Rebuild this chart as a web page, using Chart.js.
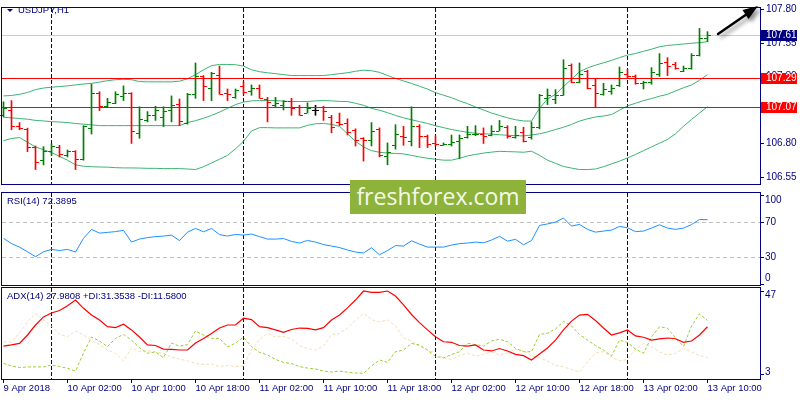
<!DOCTYPE html>
<html><head><meta charset="utf-8">
<script src="https://cdn.jsdelivr.net/npm/chart.js@4.4.1/dist/chart.umd.min.js"></script>
<style>
html,body{margin:0;padding:0;background:#fff;width:800px;height:400px;overflow:hidden}
.pane{position:absolute;left:0;width:800px}
#wm{position:absolute;left:350px;top:180px;width:176px;height:34px;background:#8db33a;color:#f4f8ec;font:23px 'Open Sans',sans-serif;line-height:33px;text-align:center}
</style></head><body>
<div class="pane" style="top:0;height:192px"><canvas id="c1"></canvas></div>
<div class="pane" style="top:192px;height:94px"><canvas id="c2"></canvas></div>
<div class="pane" style="top:286px;height:114px"><canvas id="c3"></canvas></div>
<div id="wm">freshforex.com</div>
<script>
const NAVY = '#000080';
const FONT = "'Liberation Sans', Arial, sans-serif";

// ---- categories / ticks ----
const barsPerTick = 8;
const xTickLabels = ['9 Apr 2018','10 Apr 02:00','10 Apr 10:00','10 Apr 18:00','11 Apr 02:00','11 Apr 10:00',
  '11 Apr 18:00','12 Apr 02:00','12 Apr 10:00','12 Apr 18:00','13 Apr 02:00','13 Apr 10:00'];
const daySeparators = [6, 30, 54, 78];
const priceTicks = [106.55, 106.80, 107.05, 107.30, 107.55, 107.80];
const bidPrice = 107.61;
const levelLines = [107.29, 107.07];
const rsiLevels = [70, 30];
const rsiTicks = [100, 70, 30, 0];
const adxTicks = [47, 3];

// ---- USDJPY H1 OHLC ----
const open = [107.013,107.051,106.934,106.910,106.777,106.676,106.747,106.777,106.716,106.742,
106.681,106.915,107.175,107.079,107.105,107.152,107.175,106.880,106.976,107.011,
106.997,107.051,107.098,106.952,107.170,107.304,107.215,107.315,107.180,107.145,
107.231,107.191,107.215,107.133,107.086,107.086,107.121,107.075,107.032,107.051,
107.075,107.002,106.962,106.950,106.903,106.840,106.829,106.910,106.707,106.787,
106.857,106.817,106.934,106.857,106.801,106.787,106.794,106.817,106.852,106.868,
106.871,106.864,106.894,106.927,106.852,106.887,106.852,106.927,107.140,107.133,
107.165,107.384,107.261,107.339,107.238,107.168,107.191,107.238,107.320,107.308,
107.250,107.261,107.320,107.409,107.395,107.344,107.367,107.461,107.589];
const high = [107.112,107.121,106.957,106.915,106.782,106.777,106.798,106.787,106.752,106.747,
106.934,107.245,107.187,107.138,107.187,107.231,107.180,107.075,107.039,107.079,
107.075,107.156,107.133,107.175,107.402,107.308,107.332,107.379,107.208,107.208,
107.261,107.238,107.238,107.145,107.145,107.121,107.138,107.086,107.105,107.086,
107.079,107.011,107.028,106.985,106.910,106.845,106.957,106.917,106.805,106.941,
106.929,107.075,106.941,106.864,106.857,106.805,106.864,106.864,106.929,106.934,
106.917,106.934,106.973,106.934,106.929,106.922,106.962,107.168,107.208,107.203,
107.426,107.395,107.402,107.348,107.285,107.250,107.238,107.372,107.355,107.313,
107.266,107.367,107.472,107.442,107.407,107.379,107.472,107.660,107.636];
const low = [106.999,106.903,106.903,106.740,106.606,106.641,106.712,106.700,106.700,106.606,
106.676,106.871,107.046,107.075,107.098,107.121,106.801,106.840,106.962,106.973,
106.927,106.962,106.934,106.945,107.138,107.121,107.121,107.168,107.121,107.138,
107.168,107.161,107.138,106.962,107.075,107.051,107.011,107.011,107.028,107.011,
106.973,106.880,106.934,106.864,106.782,106.669,106.782,106.700,106.641,106.759,
106.787,106.782,106.770,106.770,106.782,106.787,106.782,106.688,106.840,106.859,
106.801,106.857,106.894,106.840,106.840,106.812,106.833,106.910,107.091,107.098,
107.160,107.254,107.254,107.208,107.075,107.161,107.168,107.226,107.292,107.243,
107.208,107.243,107.301,107.308,107.355,107.337,107.355,107.454,107.561];
const close = [107.068,106.934,106.917,106.777,106.660,106.747,106.782,106.723,106.747,106.681,
106.929,107.180,107.079,107.114,107.168,107.175,106.894,106.985,107.016,107.051,
107.044,107.086,106.969,107.170,107.304,107.231,107.325,107.173,107.168,107.198,
107.187,107.215,107.138,107.114,107.103,107.117,107.068,107.016,107.063,107.051,
107.044,106.927,106.945,106.887,106.829,106.824,106.894,106.712,106.735,106.868,
106.847,106.934,106.857,106.794,106.794,106.794,106.810,106.845,106.868,106.871,
106.857,106.894,106.934,106.859,106.864,106.817,106.922,107.161,107.161,107.161,
107.367,107.261,107.320,107.215,107.175,107.208,107.215,107.332,107.308,107.250,
107.261,107.332,107.402,107.379,107.363,107.367,107.465,107.589,107.610];

// ---- Bollinger Bands ----
const bbUpper = [107.156,107.159,107.168,107.182,107.203,107.215,107.221,107.226,107.231,107.238,
107.245,107.250,107.259,107.270,107.277,107.280,107.277,107.263,107.261,107.261,
107.261,107.261,107.266,107.284,107.315,107.351,107.382,107.391,107.391,107.389,
107.379,107.351,107.337,107.329,107.322,107.315,107.308,107.308,107.308,107.308,
107.308,107.315,107.322,107.329,107.340,107.348,107.344,107.332,107.308,107.287,
107.268,107.249,107.228,107.207,107.180,107.161,107.143,107.119,107.098,107.073,
107.051,107.028,107.010,106.992,106.978,106.969,106.968,107.063,107.133,107.168,
107.226,107.280,107.337,107.365,107.386,107.403,107.421,107.442,107.461,107.473,
107.489,107.505,107.523,107.533,107.538,107.544,107.549,107.554,107.561];
const bbMiddle = [106.997,106.992,106.987,106.982,106.973,106.969,106.964,106.961,106.957,106.950,
106.945,106.940,106.934,106.934,106.934,106.934,106.934,106.934,106.934,106.934,
106.934,106.934,106.934,106.957,106.971,106.989,107.010,107.035,107.063,107.091,
107.110,107.119,107.121,107.121,107.121,107.117,107.114,107.114,107.114,107.119,
107.121,107.119,107.115,107.114,107.101,107.086,107.063,107.049,107.031,107.010,
106.992,106.978,106.964,106.950,106.933,106.919,106.905,106.894,106.884,106.877,
106.873,106.870,106.866,106.862,106.859,106.857,106.864,106.873,106.887,106.905,
106.922,106.943,106.968,106.985,106.999,107.006,107.017,107.049,107.082,107.101,
107.121,107.136,107.154,107.168,107.193,107.217,107.238,107.273,107.315];
const bbLower = [106.822,106.838,106.845,106.810,106.775,106.754,106.733,106.704,106.676,106.641,
106.631,106.627,106.625,106.624,106.620,106.618,106.618,106.617,106.615,106.615,
106.613,106.613,106.613,106.610,106.606,106.627,106.655,106.683,106.712,106.761,
106.817,106.894,106.919,106.919,106.917,106.917,106.917,106.917,106.936,106.948,
106.950,106.943,106.929,106.873,106.817,106.775,106.747,106.735,106.729,106.726,
106.723,106.712,106.700,106.690,106.683,106.676,106.676,106.690,106.708,106.719,
106.729,106.736,106.742,106.740,106.738,106.735,106.743,106.712,106.676,106.652,
106.629,106.617,106.606,106.606,106.610,106.627,106.648,106.669,106.693,106.719,
106.747,106.775,106.803,106.831,106.873,106.929,106.980,107.028,107.075];

// ---- RSI(14) ----
const rsi = [51.2,45.3,41.3,36.0,30.4,36.0,38.7,37.4,38.7,35.7,
51.2,61.4,57.2,58.0,58.9,60.3,47.0,50.4,52.1,53.2,
53.8,54.9,48.7,58.3,62.5,58.7,62.5,55.5,53.8,55.7,
54.9,56.1,53.2,50.4,50.4,51.0,47.8,45.9,48.9,47.0,
44.2,42.5,40.8,38.0,35.7,34.6,40.6,32.6,37.4,43.0,
42.5,48.5,44.7,41.3,41.3,41.3,43.6,45.3,45.9,47.0,
46.2,49.3,53.5,48.1,50.1,44.0,48.7,65.9,67.6,69.7,
74.2,65.1,67.1,61.4,58.3,59.5,60.6,64.8,63.2,58.9,
59.5,62.9,66.6,62.9,61.4,62.9,66.8,72.7,72.39];

// ---- ADX(14) ----
const adx = [17.7,18.3,19.1,23.6,28.9,33.2,35.3,36.6,39.2,42.2,
37.8,34.2,31.6,28.0,27.5,29.3,26.3,22.5,18.3,18.0,
16.1,15.9,15.6,15.6,19.3,21.7,24.4,27.3,28.9,28.9,
32.5,31.8,28.0,27.5,26.3,25.0,26.5,27.3,27.1,26.3,
27.5,31.6,34.2,38.0,42.2,47.0,46.3,46.3,47.0,44.3,
39.6,34.5,30.2,26.3,22.7,20.0,19.7,18.0,17.7,18.3,
15.6,15.1,16.4,15.1,13.3,12.6,10.3,13.5,16.7,20.9,
26.3,31.0,34.2,34.6,31.3,27.3,23.6,24.7,26.3,23.1,
22.4,20.9,21.5,22.0,21.6,19.7,20.4,23.6,27.98];
const plusDI = [8.5,7.1,6.3,6.6,6.6,6.6,7.6,6.8,5.9,4.4,
14.0,22.5,20.4,17.4,21.8,23.9,20.9,16.9,13.9,14.6,
11.5,19.3,17.7,18.5,25.7,23.6,21.8,21.8,17.2,19.3,
22.4,17.4,14.3,13.0,10.6,9.0,8.4,6.8,6.0,5.5,
4.4,3.9,4.4,3.8,3.4,3.2,7.1,10.3,9.0,14.7,
15.6,19.1,18.3,15.6,12.2,11.4,13.2,14.7,19.2,18.5,
17.7,20.4,21.3,20.0,16.5,14.7,14.7,23.9,24.5,26.8,
30.9,28.4,23.9,20.9,18.0,15.6,12.4,20.9,19.6,16.1,
13.9,22.5,28.0,27.2,22.0,17.5,28.4,34.8,31.35];
const minusDI = [20.0,19.9,24.7,30.5,35.1,31.6,28.4,23.9,22.7,25.7,
23.6,20.7,18.5,15.6,13.8,9.8,16.7,14.8,15.1,14.6,
13.8,11.9,10.8,9.8,8.4,7.9,8.2,6.8,7.4,6.8,
7.1,15.6,21.2,24.5,22.5,22.8,21.5,18.0,16.4,15.6,
17.7,23.9,24.4,27.3,31.6,35.1,31.8,30.5,31.6,28.4,
22.0,20.4,17.6,15.6,14.0,11.5,10.6,12.7,13.9,12.5,
13.2,14.6,13.0,14.0,15.9,15.4,12.4,11.5,9.8,7.4,
6.7,5.2,3.9,9.2,14.0,14.7,11.9,9.8,10.6,16.1,
19.1,17.2,14.6,13.0,13.8,16.5,14.6,12.7,11.58];

// ---- helpers ----
const pts = arr => arr.map((v, i) => ({x: i, y: v}));
const barColor = (i) => close[i] > open[i] ? '#008000' : (close[i] < open[i] ? '#ff0000' : '#000000');

function xAxis(show) {
  const ax = {
    type: 'linear', min: -0.1875, max: 94.5625, display: show, offset: false,
    grid: {display: show, drawOnChartArea: false, drawTicks: true, tickLength: 4, color: NAVY},
    border: {display: false},
    afterBuildTicks: s => { s.ticks = xTickLabels.map((_, i) => ({value: i * barsPerTick})); },
    ticks: {autoSkip: false, maxRotation: 0, minRotation: 0, align: 'start', padding: 0, color: NAVY,
      font: {family: FONT, size: 9.5}, callback: v => xTickLabels[Math.round(v / barsPerTick)]}
  };
  if (show) ax.afterFit = s => { s.height = 21; s.paddingLeft = 0; s.paddingRight = 0; };
  return ax;
}
function hiddenY(min, max) {
  return {position: 'right', min, max, grid: {display: false}, border: {display: false},
    ticks: {display: false}, afterFit: s => { s.width = 40; }};
}

const panelDecor = {
  id: 'panelDecor',
  beforeDatasetsDraw(chart, args, o) {
    const {ctx, chartArea: a, scales: {x, y}} = chart;
    ctx.save();
    ctx.lineWidth = 1;
    ctx.strokeStyle = NAVY; ctx.setLineDash([4, 2]);
    daySeparators.forEach(i => {
      const px = Math.round(x.getPixelForValue(i) - 0.5) + 0.5;
      ctx.beginPath(); ctx.moveTo(px, a.top); ctx.lineTo(px, a.bottom); ctx.stroke();
    });
    ctx.strokeStyle = '#c0c0c0'; ctx.setLineDash([4, 3]);
    (o.hLevels || []).forEach(v => {
      const py = Math.round(y.getPixelForValue(v)) + 0.5;
      ctx.beginPath(); ctx.moveTo(a.left, py); ctx.lineTo(a.right, py); ctx.stroke();
    });
    ctx.restore();
  },
  afterDraw(chart, args, o) {
    const {ctx, chartArea: a, scales: {y}} = chart;
    ctx.save();
    ctx.strokeStyle = NAVY; ctx.lineWidth = 1; ctx.setLineDash([]);
    ctx.strokeRect(a.left - 0.5, a.top - 0.5, a.right - a.left + 1, a.bottom - a.top + 1);
    ctx.font = `10px ${FONT}`; ctx.fillStyle = NAVY; ctx.textBaseline = 'middle'; ctx.textAlign = 'left';
    (o.sideTicks || []).forEach(v => {
      const py = y.getPixelForValue(v);
      const ly = Math.min(Math.max(py, a.top + 7), a.bottom - 7);
      ctx.beginPath(); ctx.moveTo(a.right, Math.round(py) + 0.5); ctx.lineTo(a.right + 4, Math.round(py) + 0.5); ctx.stroke();
      ctx.fillText(String(v), a.right + 5, ly + 0.5);
    });
    if (o.header) {
      ctx.font = `9.5px ${FONT}`;
      ctx.fillText(o.header, o.headerX, o.headerY);
    }
    ctx.restore();
  }
};

const mainDecor = {
  id: 'mainDecor',
  beforeDatasetsDraw(chart) {
    const {ctx, chartArea: a, scales: {y}} = chart;
    ctx.save();
    ctx.strokeStyle = '#cccccc'; ctx.lineWidth = 1;
    const yb = Math.round(y.getPixelForValue(bidPrice)) + 0.5;
    ctx.beginPath(); ctx.moveTo(a.left, yb); ctx.lineTo(a.right, yb); ctx.stroke();
    ctx.restore();
  },
  afterDatasetsDraw(chart) {
    const {ctx, chartArea: a, scales: {x, y}} = chart;
    ctx.save();
    ctx.lineWidth = 1;
    for (let i = 0; i < open.length; i++) {
      const cx = x.getPixelForValue(i);
      ctx.strokeStyle = barColor(i);
      const yo = Math.round(y.getPixelForValue(open[i])) + 0.5;
      const yc = Math.round(y.getPixelForValue(close[i])) + 0.5;
      ctx.beginPath();
      ctx.moveTo(cx - 3.5, yo); ctx.lineTo(cx - 0.5, yo);
      ctx.moveTo(cx + 0.5, yc); ctx.lineTo(cx + 3.5, yc);
      ctx.stroke();
    }
    ctx.strokeStyle = '#ff0000';
    levelLines.forEach(v => {
      const py = Math.round(y.getPixelForValue(v)) + 0.5;
      ctx.beginPath(); ctx.moveTo(a.left, py); ctx.lineTo(a.right, py); ctx.stroke();
    });
    ctx.restore();
  },
  afterDraw(chart) {
    const {ctx, chartArea: a, scales: {y}} = chart;
    ctx.save();
    ctx.font = `10px ${FONT}`; ctx.textBaseline = 'middle'; ctx.textAlign = 'left';
    const box = (v, bg) => {
      const py = Math.round(y.getPixelForValue(v));
      ctx.fillStyle = bg; ctx.fillRect(a.right + 1, py - 5, 36, 11);
      ctx.fillStyle = '#ffffff'; ctx.fillText(v.toFixed(2), a.right + 6, py + 0.5);
    };
    box(bidPrice, NAVY);
    levelLines.forEach(v => box(v, '#ff0000'));
    ctx.fillStyle = NAVY;
    ctx.beginPath(); ctx.moveTo(7, 9); ctx.lineTo(13, 9); ctx.lineTo(10, 12); ctx.closePath(); ctx.fill();
    ctx.font = `9.5px ${FONT}`;
    ctx.fillText('USDJPY,H1', 18, 10.5);
    ctx.shadowColor = 'rgba(0,0,0,0.45)'; ctx.shadowBlur = 4; ctx.shadowOffsetX = 3; ctx.shadowOffsetY = 3;
    ctx.strokeStyle = '#000'; ctx.fillStyle = '#000'; ctx.lineWidth = 2.5; ctx.lineCap = 'round';
    ctx.beginPath(); ctx.moveTo(718, 34); ctx.lineTo(747, 14); ctx.stroke();
    ctx.beginPath(); ctx.moveTo(758, 6); ctx.lineTo(748.5, 19); ctx.lineTo(742.5, 10); ctx.closePath(); ctx.fill();
    ctx.restore();
  }
};

const common = {responsive: true, maintainAspectRatio: false, animation: false, events: []};

new Chart(document.getElementById('c1'), {
  type: 'bar',
  data: {datasets: [
    {type: 'bar', data: high.map((h, i) => ({x: i, y: [low[i], h]})),
      backgroundColor: open.map((_, i) => barColor(i)), borderWidth: 0, barThickness: 1, grouped: false},
    {type: 'line', data: pts(bbUpper), borderColor: '#3cb371', borderWidth: 1, pointRadius: 0, tension: 0},
    {type: 'line', data: pts(bbMiddle), borderColor: '#3cb371', borderWidth: 1, pointRadius: 0, tension: 0},
    {type: 'line', data: pts(bbLower), borderColor: '#3cb371', borderWidth: 1, pointRadius: 0, tension: 0}
  ]},
  options: Object.assign({}, common, {
    layout: {padding: {left: 2, top: 2, bottom: 2, right: 0}},
    plugins: {legend: {display: false}, tooltip: {enabled: false}, panelDecor: {}},
    scales: {
      x: xAxis(false),
      y: {position: 'right', min: 106.498, max: 107.8126,
        grid: {display: true, drawOnChartArea: false, drawTicks: true, tickLength: 4, color: NAVY},
        border: {display: false},
        afterBuildTicks: s => { s.ticks = priceTicks.map(v => ({value: v})); },
        ticks: {color: NAVY, font: {family: FONT, size: 10}, padding: 2, callback: v => v.toFixed(2)},
        afterFit: s => { s.width = 40; }}
    }
  }),
  plugins: [panelDecor, mainDecor]
});

new Chart(document.getElementById('c2'), {
  type: 'line',
  data: {datasets: [
    {data: pts(rsi), borderColor: '#1e90ff', borderWidth: 1, pointRadius: 0, tension: 0}
  ]},
  options: Object.assign({}, common, {
    layout: {padding: {left: 2, top: 1, bottom: 1, right: 0}},
    plugins: {legend: {display: false}, tooltip: {enabled: false},
      panelDecor: {hLevels: rsiLevels, sideTicks: rsiTicks, header: 'RSI(14) 72.3895', headerX: 7, headerY: 9.5}},
    scales: {x: xAxis(false), y: hiddenY(-1.7, 102.7)}
  }),
  plugins: [panelDecor]
});

new Chart(document.getElementById('c3'), {
  type: 'line',
  data: {datasets: [
    {data: pts(adx), borderColor: '#ff0000', borderWidth: 1.2, pointRadius: 0, tension: 0},
    {data: pts(plusDI), borderColor: '#9acd32', borderWidth: 1, borderDash: [3, 2], pointRadius: 0, tension: 0},
    {data: pts(minusDI), borderColor: '#f5deb3', borderWidth: 1, borderDash: [3, 2], pointRadius: 0, tension: 0}
  ]},
  options: Object.assign({}, common, {
    layout: {padding: {left: 2, top: 2, bottom: 0, right: 0}},
    plugins: {legend: {display: false}, tooltip: {enabled: false},
      panelDecor: {sideTicks: adxTicks, header: 'ADX(14) 27.9808 +DI:31.3538 -DI:11.5800', headerX: 7, headerY: 10.5}},
    scales: {x: xAxis(true), y: hiddenY(0.18, 48.6)}
  }),
  plugins: [panelDecor]
});
</script></body></html>
